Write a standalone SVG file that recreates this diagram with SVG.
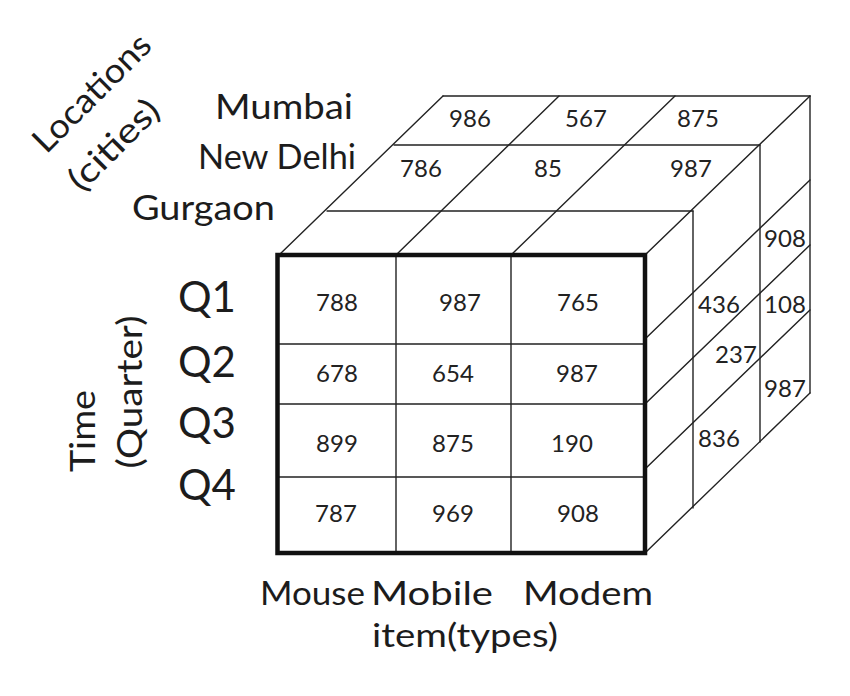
<svg xmlns="http://www.w3.org/2000/svg" width="850" height="696" viewBox="0 0 850 696">
<style>
.ln{stroke:#222;stroke-width:1.4;fill:none;stroke-linecap:round}
.thick{stroke:#111;stroke-width:4.5;fill:none}
.num{font-family:Lato,"Liberation Sans",sans-serif;font-size:24px;fill:#222;text-anchor:middle}
.lab{font-family:Lato,"Liberation Sans",sans-serif;fill:#1c1c1c}
</style>
<rect width="850" height="696" fill="#ffffff"/>
<g id="connectors">
<!-- top face -->
<line class="ln" x1="327" y1="211" x2="693" y2="211"/>
<line class="ln" x1="394" y1="145" x2="760" y2="145"/>
<line class="ln" x1="443" y1="96" x2="810" y2="96"/>
<line class="ln" x1="279" y1="255" x2="443" y2="96"/>
<line class="ln" x1="396" y1="255" x2="559" y2="96"/>
<line class="ln" x1="511" y1="255" x2="675" y2="96"/>
<line class="ln" x1="645" y1="255" x2="810" y2="96"/>
<!-- right face -->
<line class="ln" x1="693" y1="211" x2="693" y2="508"/>
<line class="ln" x1="760" y1="145" x2="760" y2="442"/>
<line class="ln" x1="810" y1="96" x2="810" y2="393"/>
<line class="ln" x1="645" y1="339" x2="810" y2="180"/>
<line class="ln" x1="645" y1="404" x2="810" y2="245"/>
<line class="ln" x1="645" y1="469" x2="810" y2="310"/>
<line class="ln" x1="645" y1="553" x2="810" y2="393"/>
<!-- front grid -->
<line class="ln" x1="396" y1="255" x2="396" y2="553"/>
<line class="ln" x1="511" y1="255" x2="511" y2="553"/>
<line class="ln" x1="277" y1="344" x2="645" y2="344"/>
<line class="ln" x1="277" y1="404" x2="645" y2="404"/>
<line class="ln" x1="277" y1="477" x2="645" y2="477"/>
<rect class="thick" x="277.5" y="255" width="367.5" height="298"/>
</g>
<g id="front-values">
<text class="num" x="337" y="311">788</text>
<text class="num" x="460" y="311">987</text>
<text class="num" x="578" y="311">765</text>
<text class="num" x="337" y="382">678</text>
<text class="num" x="453" y="382">654</text>
<text class="num" x="577" y="382">987</text>
<text class="num" x="337" y="452">899</text>
<text class="num" x="453" y="452">875</text>
<text class="num" x="572" y="452">190</text>
<text class="num" x="336" y="522">787</text>
<text class="num" x="453" y="522">969</text>
<text class="num" x="578" y="522">908</text>
</g>
<g id="top-values">
<text class="num" x="470" y="127">986</text>
<text class="num" x="586" y="127">567</text>
<text class="num" x="698" y="127">875</text>
<text class="num" x="421" y="177">786</text>
<text class="num" x="548" y="177">85</text>
<text class="num" x="691" y="177">987</text>
</g>
<g id="side-values">
<text class="num" x="785" y="247">908</text>
<text class="num" x="719" y="313">436</text>
<text class="num" x="785" y="313">108</text>
<text class="num" x="736" y="363">237</text>
<text class="num" x="785" y="397">987</text>
<text class="num" x="719" y="447">836</text>
</g>
<g id="location-labels">
<text class="lab" font-size="34" x="215" y="119" textLength="138" lengthAdjust="spacingAndGlyphs">Mumbai</text>
<text class="lab" font-size="34" x="198" y="169" textLength="158" lengthAdjust="spacingAndGlyphs">New Delhi</text>
<text class="lab" font-size="34" x="132" y="220" textLength="143" lengthAdjust="spacingAndGlyphs">Gurgaon</text>
<text class="lab" font-size="34" text-anchor="middle" transform="translate(100,101) rotate(-45)" textLength="152" lengthAdjust="spacingAndGlyphs">Locations</text>
<text class="lab" font-size="34" text-anchor="middle" transform="translate(122,153) rotate(-45)" textLength="114" lengthAdjust="spacingAndGlyphs">(cities)</text>
</g>
<g id="time-labels">
<text class="lab" font-size="42" x="178" y="312">Q1</text>
<text class="lab" font-size="42" x="178" y="377">Q2</text>
<text class="lab" font-size="42" x="178" y="438">Q3</text>
<text class="lab" font-size="42" x="178" y="500">Q4</text>
<text class="lab" font-size="35" text-anchor="middle" transform="translate(95,431) rotate(-90)" textLength="82" lengthAdjust="spacingAndGlyphs">Time</text>
<text class="lab" font-size="35" text-anchor="middle" transform="translate(142,392) rotate(-90)" textLength="153" lengthAdjust="spacingAndGlyphs">(Quarter)</text>
</g>
<g id="item-labels">
<text class="lab" font-size="33" x="260" y="605" textLength="105" lengthAdjust="spacingAndGlyphs">Mouse</text>
<text class="lab" font-size="33" x="371" y="605" textLength="122" lengthAdjust="spacingAndGlyphs">Mobile</text>
<text class="lab" font-size="33" x="523" y="605" textLength="130" lengthAdjust="spacingAndGlyphs">Modem</text>
<text class="lab" font-size="33" x="372" y="647" textLength="186" lengthAdjust="spacingAndGlyphs">item(types)</text>
</g>
</svg>
